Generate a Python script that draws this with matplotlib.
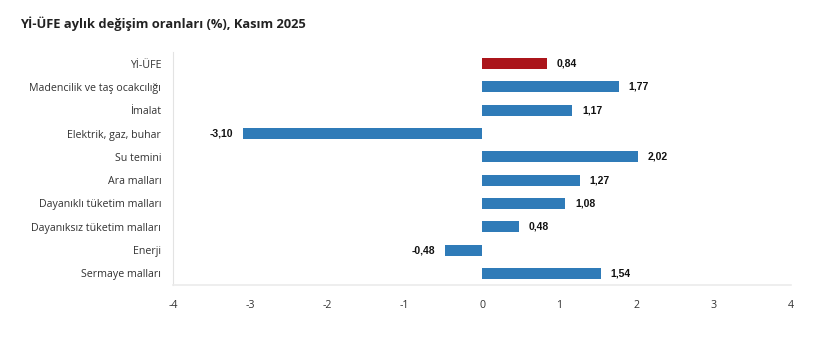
import matplotlib
matplotlib.use("Agg")
import matplotlib.pyplot as plt

categories = ["Yİ-ÜFE", "Madencilik ve taş ocakcılığı", "İmalat", "Elektrik, gaz, buhar",
              "Su temini", "Ara malları", "Dayanıklı tüketim malları",
              "Dayanıksız tüketim malları", "Enerji", "Sermaye malları"]
values = [0.84, 1.77, 1.17, -3.10, 2.02, 1.27, 1.08, 0.48, -0.48, 1.54]
xticks = [-4, -3, -2, -1, 0, 1, 2, 3, 4]

BLUE = "#2f7bb8"
RED = "#ab151b"

fig = plt.figure(figsize=(8.13, 3.57), dpi=100)
ax = fig.add_axes([173/813, 72/357, 618/813, 233/357])

y = list(range(len(categories)))
colors = [RED] + [BLUE] * (len(categories) - 1)
ax.barh(y, values, height=0.47, color=colors, zorder=2)

for yi, v in zip(y, values):
    txt = f"{v:.2f}".replace(".", ",")
    off = 7 if v >= 0 else -7
    ax.annotate(txt, (v, yi), xytext=(off, 0), textcoords="offset points",
                ha="left" if v >= 0 else "right", va="center",
                fontsize=7.5, fontweight="bold",
                family="Liberation Sans", color="#111111")

ax.set_ylim(len(categories) - 0.5, -0.5)
ax.set_xlim(-4, 4)
ax.set_yticks(y)
ax.set_yticklabels(categories, family="Open Sans", fontsize=7.7, color="#333333")
ax.set_xticks(xticks)
ax.set_xticklabels([str(t) for t in xticks], family="Open Sans", fontsize=7.7, color="#333333")
ax.tick_params(axis="both", length=0)
ax.tick_params(axis="y", pad=8.5)
ax.tick_params(axis="x", pad=11)

for s in ["top", "right"]:
    ax.spines[s].set_visible(False)
ax.spines["left"].set_color("#e3e3e3")
ax.spines["bottom"].set_color("#ebebeb")
ax.spines["bottom"].set_linewidth(1.2)

fig.text(20/813, 1 - 24/357, "Yİ-ÜFE aylık değişim oranları (%), Kasım 2025",
         family="Open Sans", fontsize=9.3, fontweight="bold", color="#222222",
         va="center", ha="left")

fig.savefig("out.png", dpi=100)
